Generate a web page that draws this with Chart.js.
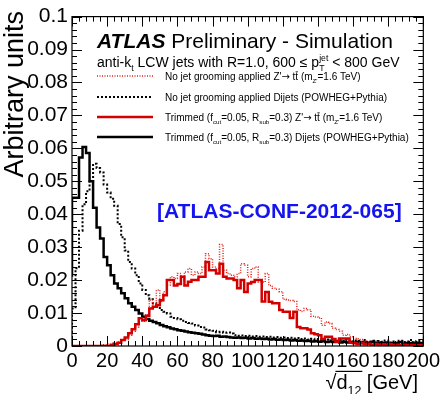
<!DOCTYPE html>
<html>
<head>
<meta charset="utf-8">
<script src="https://cdn.jsdelivr.net/npm/chart.js@4.4.1/dist/chart.umd.min.js"></script>
<style>
  body { margin: 0; background: #fff; }
  #wrap { width: 443px; height: 394px; }
</style>
</head>
<body>
<div id="wrap"><canvas id="chart" width="443" height="394"></canvas></div>
<script>
// --------------------
// Data: 2 GeV bins from 0 to 200 GeV (value = content of bin i)
// --------------------
const binWidth = 2;
const xTicks = [0, 20, 40, 60, 80, 100, 120, 140, 160, 180, 200];
const yTicks = [0, 0.01, 0.02, 0.03, 0.04, 0.05, 0.06, 0.07, 0.08, 0.09, 0.1];

// No jet grooming, Z' -> ttbar (red dotted)
const noTrimZprime = [
  0, 0, 0, 0, 0, 0, 0, 0, 0, 0.0002,
  0.0004, 0.0006, 0.0008, 0.001, 0.0012, 0.0018, 0.002, 0.0033, 0.0045, 0.0058,
  0.0084, 0.0075, 0.0095, 0.014, 0.0125, 0.017, 0.0135, 0.0165, 0.0185, 0.021,
  0.0205, 0.022, 0.02, 0.0225, 0.0235, 0.0215, 0.0225, 0.022, 0.024, 0.028,
  0.0265, 0.024, 0.0235, 0.0308, 0.023, 0.022, 0.0215, 0.021, 0.022, 0.025,
  0.0245, 0.021, 0.0235, 0.024, 0.0194, 0.0194, 0.022, 0.0184, 0.0175, 0.0172,
  0.0165, 0.0142, 0.014, 0.0138, 0.0135, 0.011, 0.0105, 0.0114, 0.011, 0.009,
  0.0088, 0.0085, 0.0063, 0.0073, 0.0068, 0.0054, 0.005, 0.0045, 0.0033, 0.0035,
  0.0028, 0.0023, 0.0022, 0.002, 0.0015, 0.0013, 0.0011, 0.0009, 0.0012, 0.0008,
  0.0007, 0.001, 0.0006, 0.0008, 0.0005, 0.0007, 0.0005, 0.0006, 0.0004, 0.0008
];

// No jet grooming, dijets (black dotted)
const noTrimDijet = [
  0.004, 0.0114, 0.0236, 0.035, 0.043, 0.047, 0.05, 0.0553, 0.054, 0.0527,
  0.049, 0.0466, 0.0447, 0.0426, 0.037, 0.033, 0.029, 0.0255, 0.0235, 0.0215,
  0.019, 0.017, 0.0154, 0.0142, 0.013, 0.0119, 0.0109, 0.0104, 0.0099, 0.0089,
  0.0085, 0.0081, 0.0077, 0.0073, 0.007, 0.0068, 0.0062, 0.0058, 0.0056, 0.005,
  0.0048, 0.0046, 0.0042, 0.0043, 0.004, 0.0041, 0.0038, 0.0033, 0.0031, 0.0032,
  0.003, 0.0031, 0.0029, 0.003, 0.0028, 0.0029, 0.0027, 0.0028, 0.0026, 0.0027,
  0.0025, 0.0026, 0.0024, 0.0025, 0.0023, 0.0024, 0.0021, 0.0023, 0.002, 0.0022,
  0.0019, 0.0021, 0.0018, 0.002, 0.0017, 0.0019, 0.0016, 0.0018, 0.0015, 0.0019,
  0.0014, 0.0017, 0.0015, 0.0013, 0.0018, 0.0012, 0.0016, 0.0011, 0.0015, 0.0013,
  0.0017, 0.0011, 0.0014, 0.001, 0.0016, 0.0012, 0.0014, 0.0018, 0.0011, 0.0015
];

// Trimmed, Z' -> ttbar (red solid)
const trimZprime = [
  0, 0, 0, 0, 0, 0, 0, 0, 0, 0,
  0, 0, 0.0003, 0.0006, 0.001, 0.0018, 0.0026, 0.0039, 0.0051, 0.0066,
  0.0084, 0.0078, 0.0092, 0.0114, 0.0119, 0.0124, 0.0139, 0.0154, 0.02, 0.02,
  0.0184, 0.0188, 0.021, 0.0184, 0.0195, 0.02, 0.02, 0.021, 0.021, 0.0255,
  0.023, 0.023, 0.022, 0.025, 0.021, 0.0205, 0.0205, 0.02, 0.0175, 0.02,
  0.0164, 0.019, 0.0194, 0.02, 0.02, 0.0135, 0.0164, 0.0134, 0.013, 0.013,
  0.0109, 0.0104, 0.0104, 0.0085, 0.0104, 0.0058, 0.0054, 0.0054, 0.005, 0.0039,
  0.0036, 0.0033, 0.0021, 0.0028, 0.0028, 0.0021, 0.0013, 0.0023, 0.0023, 0.0023,
  0.001, 0.0008, 0.0006, 0.0009, 0.0005, 0.0007, 0.0004, 0.0006, 0.0004, 0.0005,
  0.0003, 0.0005, 0.0003, 0.0004, 0.0003, 0.0004, 0.0002, 0.0003, 0.0003, 0.0002
];

// Trimmed, dijets (black solid)
const trimDijet = [
  0.021, 0.045, 0.045, 0.0572, 0.0604, 0.0586, 0.05, 0.042, 0.036, 0.0326,
  0.027, 0.0245, 0.0215, 0.019, 0.0175, 0.016, 0.0145, 0.013, 0.0119, 0.0109,
  0.0099, 0.0089, 0.0082, 0.0077, 0.0073, 0.0069, 0.0064, 0.006, 0.0057, 0.0053,
  0.0051, 0.0048, 0.0046, 0.0044, 0.0042, 0.004, 0.0039, 0.0037, 0.0035, 0.0033,
  0.0031, 0.003, 0.0031, 0.0028, 0.0029, 0.0027, 0.0026, 0.0025, 0.0026, 0.0024,
  0.0025, 0.0023, 0.0024, 0.0022, 0.0023, 0.0021, 0.0022, 0.002, 0.0021, 0.0019,
  0.002, 0.0018, 0.0019, 0.0017, 0.0018, 0.0016, 0.0017, 0.0015, 0.0016, 0.0014,
  0.0015, 0.0013, 0.0015, 0.0012, 0.0014, 0.0012, 0.0013, 0.0011, 0.0013, 0.0011,
  0.0012, 0.001, 0.0012, 0.0009, 0.0011, 0.0009, 0.0013, 0.0008, 0.001, 0.0008,
  0.0011, 0.0007, 0.0009, 0.0008, 0.0012, 0.0007, 0.0009, 0.0008, 0.001, 0.0009
];

const FONT = "'Liberation Sans', Arial, Helvetica, sans-serif";
const SYMFONT = "'DejaVu Sans', sans-serif";

// histogram -> step points at bin edges (plus closing edge)
function histPoints(values) {
  const pts = values.map((v, i) => ({ x: i * binWidth, y: v }));
  pts.push({ x: values.length * binWidth, y: values[values.length - 1] });
  return pts;
}

// --------------------
// Rich text helper (sub / sup / overline / symbol)
// --------------------
function drawRich(ctx, x, y, parts, size, style) {
  style = style || "";
  parts.forEach(p => {
    const t = typeof p === "string" ? p : p.t;
    const mode = typeof p === "string" ? "" : p.m;
    if (mode === "subsup") {
      ctx.font = style + " " + (size * 0.62) + "px " + FONT;
      ctx.fillText(t[0], x, y + size * 0.28);
      ctx.fillText(t[1], x, y - size * 0.45);
      x += Math.max(ctx.measureText(t[0]).width, ctx.measureText(t[1]).width);
      return;
    }
    const s = (mode === "sub" || mode === "sup") ? size * 0.62 : size;
    const dy = mode === "sub" ? size * 0.28 : mode === "sup" ? -size * 0.45 : 0;
    ctx.font = style + " " + s + "px " + (mode === "sym" ? SYMFONT : FONT);
    ctx.fillText(t, x, y + dy);
    const w = ctx.measureText(t).width;
    if (mode === "bar") {
      ctx.save();
      ctx.lineWidth = Math.max(0.8, size * 0.07);
      ctx.strokeStyle = ctx.fillStyle;
      ctx.beginPath();
      ctx.moveTo(x + w * 0.1, y - size * 0.82);
      ctx.lineTo(x + w * 0.95, y - size * 0.82);
      ctx.stroke();
      ctx.restore();
    }
    x += w;
  });
  return x;
}

// --------------------
// ROOT style frame and inward ticks on all sides
// --------------------
const frameTicks = {
  id: "frameTicks",
  afterDatasetsDraw(chart) {
    const { ctx, chartArea: a, scales } = chart;
    ctx.save();
    ctx.strokeStyle = "#000";
    ctx.lineWidth = 1.2;
    ctx.strokeRect(a.left, a.top, a.right - a.left, a.bottom - a.top);
    ctx.lineWidth = 1;
    ctx.beginPath();
    for (let v = 0; v <= 200; v += 4) {
      const px = Math.round(scales.x.getPixelForValue(v)) + 0.5;
      const len = v % 20 === 0 ? 10 : 5;
      ctx.moveTo(px, a.bottom); ctx.lineTo(px, a.bottom - len);
      ctx.moveTo(px, a.top); ctx.lineTo(px, a.top + len);
    }
    for (let k = 0; k <= 50; k++) {
      const py = Math.round(scales.y.getPixelForValue(k * 0.002)) + 0.5;
      const len = k % 5 === 0 ? 10 : 5;
      ctx.moveTo(a.left, py); ctx.lineTo(a.left + len, py);
      ctx.moveTo(a.right, py); ctx.lineTo(a.right - len, py);
    }
    ctx.stroke();
    ctx.restore();
  }
};

// --------------------
// Titles, labels and legend
// --------------------
const annotations = {
  id: "annotations",
  afterDraw(chart) {
    const { ctx } = chart;
    ctx.save();
    ctx.fillStyle = "#000";
    ctx.textBaseline = "alphabetic";
    ctx.textAlign = "left";

    // y title
    ctx.save();
    ctx.translate(23, 11);
    ctx.rotate(-Math.PI / 2);
    ctx.textAlign = "right";
    ctx.font = "27px " + FONT;
    ctx.fillText("Arbitrary units", 0, 0);
    ctx.restore();

    // x title: sqrt(d12) [GeV]
    const xs = 20;
    ctx.font = xs + "px " + FONT;
    const wSqrt = ctx.measureText("\u221A").width;
    const wD = ctx.measureText("d").width;
    ctx.font = (xs * 0.62) + "px " + FONT;
    const w12 = ctx.measureText("12").width;
    ctx.font = xs + "px " + FONT;
    const wGeV = ctx.measureText(" [GeV]").width;
    const tx = 418 - (wSqrt + wD + w12 + wGeV);
    const ty = 389;
    ctx.fillText("\u221A", tx, ty);
    ctx.lineWidth = 1.2;
    ctx.strokeStyle = "#000";
    ctx.beginPath();
    ctx.moveTo(tx + wSqrt - 1, ty - xs * 0.88);
    ctx.lineTo(tx + wSqrt + wD + w12 + 1, ty - xs * 0.88);
    ctx.stroke();
    drawRich(ctx, tx + wSqrt, ty, ["d", { t: "12", m: "sub" }, " [GeV]"], xs);

    // ATLAS label
    ctx.font = "italic bold 21px " + FONT;
    ctx.fillText("ATLAS", 97, 48);
    const wA = ctx.measureText("ATLAS ").width;
    ctx.font = "21px " + FONT;
    ctx.fillText("Preliminary - Simulation", 97 + wA, 48);

    drawRich(ctx, 97, 67, [
      "anti-k", { t: "t", m: "sub" }, " LCW jets with R=1.0, 600 \u2264 p",
      { t: ["T", "jet"], m: "subsup" }, " < 800 GeV"
    ], 14);

    // legend
    const zp = ["Z'", { t: "\u2192", m: "sym" }, " t", { t: "t", m: "bar" }, " (m", { t: "Z'", m: "sub" }, "=1.6 TeV)"];
    const trim = ["Trimmed (f", { t: "cut", m: "sub" }, "=0.05, R", { t: "sub", m: "sub" }, "=0.3) "];
    const rows = [
      { y: 76, color: "#e2231a", width: 1.5, dash: [1, 1.5], text: ["No jet grooming applied "].concat(zp) },
      { y: 97, color: "#000", width: 2, dash: [2, 2], text: ["No jet grooming applied Dijets (POWHEG+Pythia)"] },
      { y: 117, color: "#d40000", width: 2.5, dash: [], text: trim.concat(zp) },
      { y: 137, color: "#000", width: 2.5, dash: [], text: trim.concat(["Dijets (POWHEG+Pythia)"]) }
    ];
    rows.forEach(r => {
      ctx.save();
      ctx.strokeStyle = r.color;
      ctx.lineWidth = r.width;
      ctx.setLineDash(r.dash);
      ctx.beginPath();
      ctx.moveTo(97, r.y);
      ctx.lineTo(153, r.y);
      ctx.stroke();
      ctx.restore();
      ctx.fillStyle = "#000";
      drawRich(ctx, 165, r.y + 4, r.text, 10);
    });

    // conf note reference
    ctx.fillStyle = "#1414f0";
    ctx.font = "bold 21px " + FONT;
    ctx.fillText("[ATLAS-CONF-2012-065]", 157, 218);
    ctx.restore();
  }
};

// --------------------
// Chart
// --------------------
new Chart(document.getElementById("chart"), {
  type: "line",
  data: {
    datasets: [
      { label: "Trimmed Z'", data: histPoints(trimZprime), borderColor: "#d40000", borderWidth: 2.5 },
      { label: "Trimmed Dijets", data: histPoints(trimDijet), borderColor: "#000", borderWidth: 2.5 },
      { label: "No grooming Z'", data: histPoints(noTrimZprime), borderColor: "#e2231a", borderWidth: 1.5, borderDash: [1, 1.5] },
      { label: "No grooming Dijets", data: histPoints(noTrimDijet), borderColor: "#000", borderWidth: 2, borderDash: [2, 2] }
    ].map(d => Object.assign(d, { stepped: "after", pointRadius: 0, fill: false, tension: 0 }))
  },
  options: {
    responsive: false,
    devicePixelRatio: 1,
    animation: false,
    events: [],
    layout: { padding: { left: 0, top: 15, right: 18, bottom: 0 } },
    plugins: { legend: { display: false }, tooltip: { enabled: false } },
    scales: {
      x: {
        type: "linear", min: xTicks[0], max: xTicks[xTicks.length - 1],
        border: { display: false },
        grid: { display: false, drawTicks: false },
        afterBuildTicks(s) { s.ticks = xTicks.map(v => ({ value: v })); },
        ticks: { autoSkip: false, maxRotation: 0, color: "#000", padding: 3, font: { size: 20, family: FONT } },
        afterFit(s) { s.height = 48; }
      },
      y: {
        min: yTicks[0], max: yTicks[yTicks.length - 1],
        border: { display: false },
        grid: { display: false, drawTicks: false },
        afterBuildTicks(s) { s.ticks = yTicks.map(v => ({ value: v })); },
        ticks: { color: "#000", padding: 4, font: { size: 21, family: FONT }, callback: v => String(v) },
        afterFit(s) { s.width = 72; }
      }
    }
  },
  plugins: [frameTicks, annotations]
});
</script>
</body>
</html>
